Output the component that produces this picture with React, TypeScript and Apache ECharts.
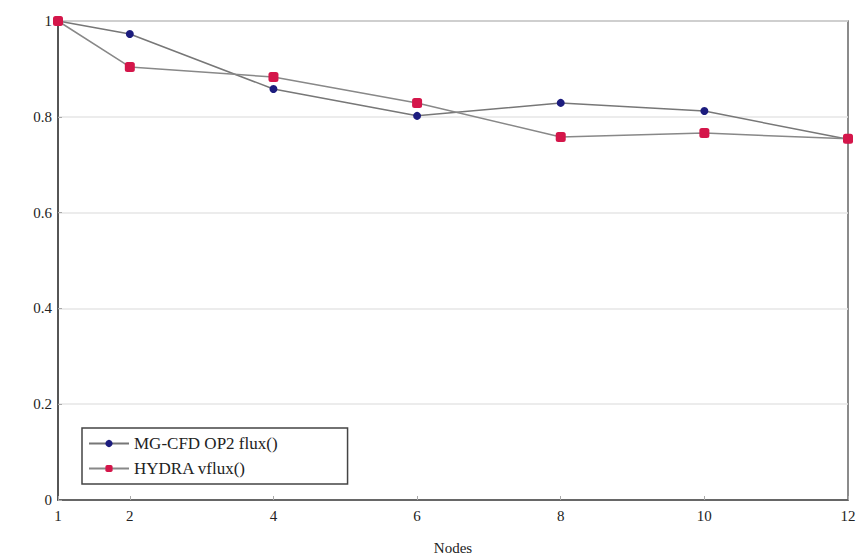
import React, { useEffect, useRef } from "react";
import * as echarts from "echarts";

const nodes = [1, 2, 4, 6, 8, 10, 12];
const mgcfdValues = [1.0, 0.973, 0.858, 0.802, 0.829, 0.812, 0.753];
const hydraValues = [1.0, 0.904, 0.883, 0.829, 0.758, 0.766, 0.754];
const xTicks = [1, 2, 4, 6, 8, 10, 12];
const seriesNames = ["MG-CFD OP2 flux()", "HYDRA vflux()"];
const xAxisName = "Nodes";

const FONT = "'Liberation Serif', 'DejaVu Serif', serif";

export default function App() {
  const ref = useRef<HTMLDivElement>(null);
  useEffect(() => {
    if (!ref.current) return;
    const chart = echarts.init(ref.current, undefined, { renderer: "svg" });
    chart.setOption({
      animation: false,
      backgroundColor: "#ffffff",
      textStyle: { fontFamily: FONT },
      grid: {
        left: 58,
        right: 8,
        top: 21,
        bottom: 57,
        outerBoundsMode: "none",
        show: true,
        borderColor: "#666",
        borderWidth: 1.5,
        backgroundColor: "transparent",
      },
      legend: {
        orient: "vertical",
        left: 82,
        top: 428,
        itemWidth: 40,
        itemHeight: 9,
        itemGap: 8,
        padding: [7, 70, 7, 6],
        borderColor: "#444",
        borderWidth: 1.5,
        backgroundColor: "#fff",
        textStyle: { fontFamily: FONT, fontSize: 17, color: "#222" },
        data: seriesNames,
      },
      xAxis: {
        type: "value",
        min: 1,
        max: 12,
        name: xAxisName,
        nameLocation: "middle",
        nameGap: 40,
        nameTextStyle: { fontFamily: FONT, fontSize: 15, color: "#222" },
        axisLine: { show: true, onZero: false, lineStyle: { color: "#444", width: 1.5 } },
        axisTick: { show: true, inside: true, length: 4, customValues: xTicks, lineStyle: { color: "#aaa" } },
        axisLabel: {
          customValues: xTicks,
          fontFamily: FONT,
          fontSize: 15,
          color: "#222",
          margin: 8,
        },
        splitLine: { show: false },
      },
      yAxis: {
        type: "value",
        min: 0,
        max: 1,
        interval: 0.2,
        axisLine: { show: true, lineStyle: { color: "#444", width: 1.5 } },
        axisTick: { show: true, inside: true, length: 4, lineStyle: { color: "#aaa" } },
        axisLabel: {
          fontFamily: FONT,
          fontSize: 15,
          color: "#222",
          margin: 6,
          formatter: (v: number) => String(Math.round(v * 10) / 10),
        },
        splitLine: { show: true, lineStyle: { color: "#e6e6e6", width: 1.5 } },
      },
      series: [
        {
          name: seriesNames[0],
          type: "line",
          data: nodes.map((n, i) => [n, mgcfdValues[i]]),
          symbol: "circle",
          symbolSize: 8,
          itemStyle: { color: "#1c1c7e" },
          lineStyle: { color: "#777", width: 1.5 },
        },
        {
          name: seriesNames[1],
          type: "line",
          data: nodes.map((n, i) => [n, hydraValues[i]]),
          symbol: "roundRect",
          symbolSize: 10,
          itemStyle: { color: "#d4164a" },
          lineStyle: { color: "#888", width: 1.5 },
        },
      ],
    });
    return () => chart.dispose();
  }, []);
  return <div ref={ref} style={{ width: 856, height: 557, position: "absolute", left: 0, top: 0 }} />;
}
